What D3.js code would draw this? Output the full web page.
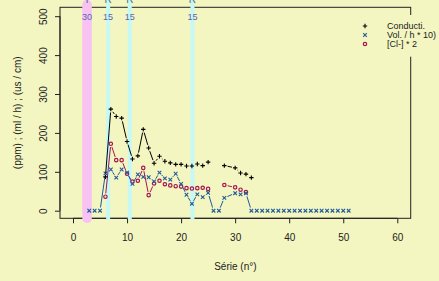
<!DOCTYPE html>
<html><head><meta charset="utf-8">
<script src="https://cdn.jsdelivr.net/npm/d3@7"></script>
<style>html,body{margin:0;padding:0;background:#f3f6c1;}svg{display:block;}</style>
</head><body>
<script>
// ---- data (null = missing value, breaks the line) ----
const xTicks = [0, 10, 20, 30, 40, 50, 60];
const yTicks = [0, 100, 200, 300, 400, 500];
const condN = [6,7,8,9,10,11,12,13,14,15,16,17,18,19,20,21,22,23,24,25,26,27,28,30,31,32,33];
const condV = [87,261,242,238,178,133,141,209,161,122,140,127,123,119,119,115,115,120,116,125,null,null,116,110,97,94,85];
const volN = [3,4,5,6,7,8,9,10,11,12,13,14,15,16,17,18,19,20,21,22,23,24,25,26,27,28,30,31,32,33,34,35,36,37,38,39,40,41,42,43,44,45,46,47,48,49,50,51];
const volV = [0,0,0,96,106,85,106,98,69,93,87,86,75,98,83,80,95,69,41,18,42,35,46,0,0,33,45,42,45,0,0,0,0,0,0,0,0,0,0,0,0,0,0,0,0,0,0,0];
const clN = [6,7,8,9,10,11,12,13,14,15,16,17,18,19,20,21,22,23,24,25,26,27,28,30,31,32];
const clV = [36,172,130,130,95,75,77,110,40,70,77,68,65,63,62,58,57,58,59,56,null,null,66,60,54,48];
const bandX = [2.6, 6.5, 10.5, 22.1];
const bandTop = ["T", "R", "R", "R"];
const bandLabel = ["30", "15", "15", "15"];
const bandKind = ["pink", "cyan", "cyan", "cyan"];
const legendLabels = ["Conducti.", "Vol. / h * 10)", "[Cl-] * 2"];

const W = 439, H = 281;
const BG = "#f3f6c1";
const colCond = "#000000", colVol = "#1f5a9a", colCl = "#a8144f";
const font = "'Liberation Sans', Arial, Helvetica, sans-serif";

const svg = d3.select("body").append("svg").attr("width", W).attr("height", H);
svg.append("rect").attr("width", W).attr("height", H).attr("fill", BG);

const box = {l: 60, r: 410.7, t: 7.3, b: 218.3};
const x = d3.scaleLinear().domain([0, 60]).range([73, 397.3]);
const y = d3.scaleLinear().domain([0, 500]).range([210.7, 16.2]);

// box
svg.append("rect").attr("x", box.l).attr("y", box.t).attr("width", box.r - box.l).attr("height", box.b - box.t)
  .attr("fill", "none").attr("stroke", "#222").attr("stroke-width", 1);

// axes
const xAxis = d3.axisBottom(x).tickValues(xTicks).tickSize(5).tickPadding(11).tickFormat(d3.format("d"));
const gx = svg.append("g").attr("transform", `translate(0,${box.b})`).call(xAxis);
gx.select(".domain").attr("stroke", "#222").attr("d", `M${x(0)},0H${x(60)}`);
gx.selectAll(".tick line").attr("stroke", "#222");
gx.selectAll("text").attr("font-family", font).attr("font-size", 10).attr("fill", "#222");

const yAxis = d3.axisLeft(y).tickValues(yTicks).tickSize(5).tickFormat(d3.format("d"));
const gy = svg.append("g").attr("transform", `translate(${box.l},0)`).call(yAxis);
gy.select(".domain").attr("stroke", "#222").attr("d", `M0,${y(0)}V${y(500)}`);
gy.selectAll(".tick line").attr("stroke", "#222");
gy.selectAll("text").attr("font-family", font).attr("font-size", 10).attr("fill", "#222")
  .attr("x", 0).attr("dy", 0)
  .attr("text-anchor", "middle")
  .attr("transform", "translate(-17,0) rotate(-90)")
  .attr("dominant-baseline", "central");

// axis titles
svg.append("text").attr("x", (box.l + box.r) / 2).attr("y", 270).attr("text-anchor", "middle")
  .attr("font-family", font).attr("font-size", 10).attr("fill", "#222").text("Série (n°)");
svg.append("text").attr("transform", `translate(21,${(box.t + box.b) / 2}) rotate(-90)`)
  .attr("text-anchor", "middle").attr("font-family", font).attr("font-size", 10).attr("fill", "#222")
  .text("(ppm) ; (ml / h) ; (us / cm)");

// bands
bandX.forEach((bx, i) => {
  const pink = bandKind[i] === "pink";
  const wdt = pink ? 9.5 : 4;
  svg.append("line").attr("x1", x(bx)).attr("x2", x(bx))
    .attr("y1", pink ? 4.5 : 2).attr("y2", box.b)
    .attr("stroke", pink ? "#f8c2f2" : "#c6f8f4").attr("stroke-width", wdt)
    .attr("stroke-linecap", "round");
  svg.append("text").attr("x", x(bx)).attr("y", 19.5).attr("text-anchor", "middle")
    .attr("font-family", font).attr("font-size", 9).attr("fill", "#5566b0").text(bandLabel[i]);
  svg.append("text").attr("x", x(bx)).attr("y", 3).attr("text-anchor", "middle")
    .attr("font-family", font).attr("font-size", 10).attr("fill", "#4a6a90").text(bandTop[i]);
});

// type="b" drawing: points, with line segments that stop short of each point
const GAP = 3.3;
function typeB(ns, vs, color, sw) {
  const pts = ns.map((n, i) => vs[i] == null ? null : [x(n), y(vs[i])]);
  const g = svg.append("g");
  for (let i = 1; i < pts.length; i++) {
    if (!pts[i - 1] || !pts[i]) continue;
    const [x0, y0] = pts[i - 1], [x1, y1] = pts[i];
    const dist = Math.hypot(x1 - x0, y1 - y0);
    const f = GAP / dist;
    if (f < 0.5) {
      g.append("line")
        .attr("x1", x0 + f * (x1 - x0)).attr("y1", y0 + f * (y1 - y0))
        .attr("x2", x1 - f * (x1 - x0)).attr("y2", y1 - f * (y1 - y0))
        .attr("stroke", color).attr("stroke-width", sw);
    }
  }
  return {g, pts: pts.filter(p => p)};
}
function plus(g, px, py, color) {
  const s = 2.2;
  g.append("path").attr("d", `M${px - s},${py}H${px + s}M${px},${py - s}V${py + s}`)
    .attr("stroke", color).attr("stroke-width", 1.1).attr("fill", "none");
}
function cross(g, px, py, color) {
  const s = 1.8;
  g.append("path").attr("d", `M${px - s},${py - s}L${px + s},${py + s}M${px - s},${py + s}L${px + s},${py - s}`)
    .attr("stroke", color).attr("stroke-width", 1.1).attr("fill", "none");
}
function circ(g, px, py, color) {
  g.append("circle").attr("cx", px).attr("cy", py).attr("r", 1.7)
    .attr("stroke", color).attr("stroke-width", 1.2).attr("fill", "none");
}

const cl = typeB(clN, clV, colCl, 1);
cl.pts.forEach(p => circ(cl.g, p[0], p[1], colCl));
const vol = typeB(volN, volV, colVol, 1);
vol.pts.forEach(p => cross(vol.g, p[0], p[1], colVol));
const cond = typeB(condN, condV, colCond, 1);
cond.pts.forEach(p => plus(cond.g, p[0], p[1], colCond));

// legend (background covers the box border)
svg.append("rect").attr("x", 356).attr("y", 15).attr("width", 83).attr("height", 41.7).attr("fill", BG);
const legMarks = [plus, cross, circ];
const legCols = [colCond, colVol, colCl];
legendLabels.forEach((lab, i) => {
  const ly = 26 + i * 9;
  const g = svg.append("g");
  legMarks[i](g, 365, ly, legCols[i]);
  svg.append("text").attr("x", 387).attr("y", ly).attr("dominant-baseline", "central")
    .attr("font-family", font).attr("font-size", 9).attr("fill", "#222").text(lab);
});
</script>
</body></html>
